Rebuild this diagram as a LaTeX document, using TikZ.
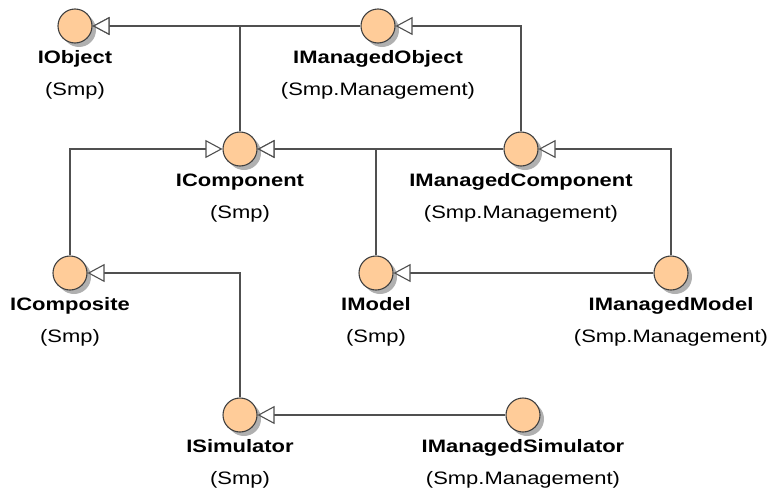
\documentclass[tikz,border=0pt]{standalone}
\usepackage{fontspec}
\setmainfont{Liberation Sans}
\newfontfamily\lblfont[FakeStretch=1.22]{Liberation Sans}
\usetikzlibrary{arrows.meta}
\definecolor{ifill}{HTML}{FFCC99}
\definecolor{iline}{HTML}{404040}
\definecolor{ishadow}{HTML}{B0B0B0}
\definecolor{eline}{HTML}{505050}

% interface lollipop: name, x, y, title, package
\newcommand{\ifc}[5]{%
  \fill[ishadow] (#2+4,#3+4) circle (17pt);
  \node[iface] (#1) at (#2,#3) {};
  \node[ititle] (#1-t) at (#2,#3+37) {#4};
  \node[ipkg] (#1-p) at (#2,#3+69) {#5};
}

\begin{document}
\begin{tikzpicture}[x=1pt,y=-1pt,
  iface/.style={circle, draw=iline, line width=1.1pt, fill=ifill,
    minimum size=34pt, inner sep=0pt},
  ititle/.style={anchor=base, inner sep=0pt,
    font=\lblfont\fontsize{18}{20}\selectfont\bfseries},
  ipkg/.style={anchor=base, inner sep=0pt,
    font=\lblfont\fontsize{18}{20}\selectfont},
  gen/.style={draw=eline, line width=1.1pt,
    -{Triangle[open, length=17pt, width=18pt, fill=white]}}
]
\useasboundingbox (0,0) rectangle (770,490);

\ifc{obj}{75}{26}{IObject}{(Smp)}
\ifc{mobj}{378}{26}{IManagedObject}{(Smp.Management)}
\ifc{comp}{240}{149}{IComponent}{(Smp)}
\ifc{mcomp}{521}{149}{IManagedComponent}{(Smp.Management)}
\ifc{cmp}{70}{273}{IComposite}{(Smp)}
\ifc{mod}{376}{273}{IModel}{(Smp)}
\ifc{mmod}{671}{273}{IManagedModel}{(Smp.Management)}
\ifc{sim}{240}{415}{ISimulator}{(Smp)}
\ifc{msim}{523}{415}{IManagedSimulator}{(Smp.Management)}

% generalisations
\draw[gen] (comp.north) |- (obj.east);
\draw[gen] (mobj.west) -- (obj.east);
\draw[gen] (mcomp.north) |- (mobj.east);
\draw[gen] (mcomp.west) -- (comp.east);
\draw[gen] (mod.north) |- (comp.east);
\draw[gen] (cmp.north) |- (comp.west);
\draw[gen] (mmod.north) |- (mcomp.east);
\draw[gen] (mmod.west) -- (mod.east);
\draw[gen] (sim.north) |- (cmp.east);
\draw[gen] (msim.west) -- (sim.east);
\end{tikzpicture}
\end{document}
